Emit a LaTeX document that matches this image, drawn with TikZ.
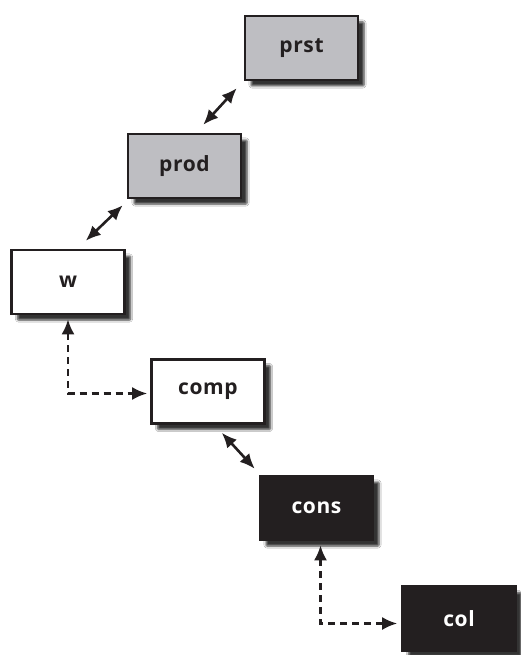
\documentclass[tikz,border=0pt]{standalone}
\usepackage{fontspec}
\setmainfont{Open Sans}[LetterSpace=3]
\usetikzlibrary{arrows.meta,shadows.blur,calc}
\definecolor{boxgray}{RGB}{190,190,194}
\definecolor{boxblack}{RGB}{35,31,32}
\begin{document}
\begin{tikzpicture}[x=1pt,y=-1pt,
  box/.style={draw=boxblack,line width=2.6pt,minimum width=113pt,minimum height=64pt,inner sep=0pt,
    font=\fontsize{21}{24}\selectfont\bfseries,
    blur shadow={shadow xshift=6pt,shadow yshift=-6pt,shadow blur steps=6,shadow blur extra rounding=1pt,shadow opacity=80}},
  graybox/.style={box,fill=boxgray,text=boxblack},
  whitebox/.style={box,fill=white,text=boxblack},
  blackbox/.style={box,fill=boxblack,text=white},
  tip/.tip={Latex[length=15pt,width=13pt]},
  dbl/.style={line width=2.6pt,draw=boxblack,tip-tip},
  dsh/.style={line width=2.6pt,draw=boxblack,dash pattern=on 7pt off 5pt,tip-tip}
]
\fill[white] (0,0) rectangle (520,655);
\useasboundingbox (0,0) rectangle (520,655);
\node[graybox] (prst) at (301.5,48) {prst};
\node[graybox] (prod) at (184.5,166) {prod};
\node[whitebox] (w) at (68,282) {w};
\node[whitebox] (comp) at (208,391.5) {comp};
\node[blackbox] (cons) at (316.5,508) {cons};
\node[blackbox] (col) at (459,618.5) {col};
\draw[dbl] ($(prod.north east)+(-39,-8)$) -- ($(prst.south west)+(-7,7)$);
\draw[dbl] ($(w.north east)+(-40,-8)$) -- ($(prod.south west)+(-4,6)$);
\draw[dbl] ($(comp.south east)+(-44,8)$) -- ($(cons.north west)+(-4,-6)$);
\draw[dsh] ($(w.south)+(0,4)$) |- ($(comp.west)+(-3,2)$);
\draw[dsh] ($(cons.south)+(4,4)$) |- ($(col.west)+(-4,5)$);
\end{tikzpicture}
\end{document}
